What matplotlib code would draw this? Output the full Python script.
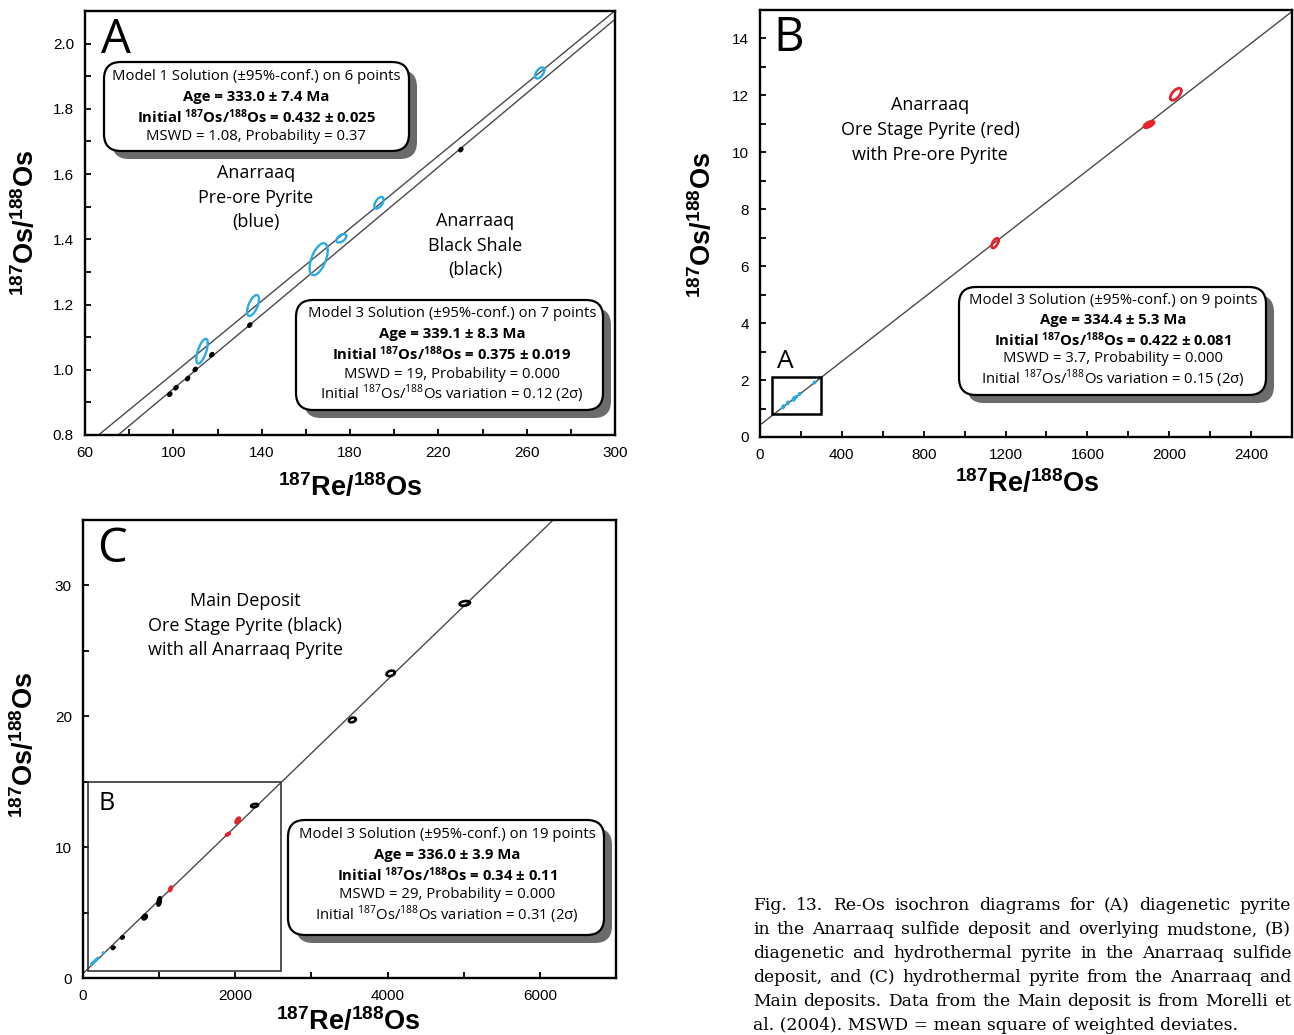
import numpy as np
import matplotlib
matplotlib.use('Agg')
import matplotlib.pyplot as plt
from matplotlib.patches import FancyBboxPatch, Rectangle
from matplotlib.ticker import MultipleLocator, FixedLocator, FormatStrFormatter

plt.rcParams['font.family'] = ['Liberation Sans', 'DejaVu Sans']
plt.rcParams['mathtext.fontset'] = 'custom'
plt.rcParams['mathtext.rm'] = 'Open Sans'
plt.rcParams['mathtext.bf'] = 'Open Sans:bold'
plt.rcParams['mathtext.sf'] = 'Liberation Sans:bold'

# ---------------- data ----------------
# Panel A: Anarraaq pre-ore pyrite (blue) error ellipses
pre_x = [113.0, 136.1, 165.8, 176.1, 193.1, 265.9]
pre_y = [1.057, 1.197, 1.339, 1.403, 1.512, 1.910]
pre_sx = [2.6, 2.7, 4.1, 2.2, 2.1, 2.1]
pre_sy = [0.038, 0.032, 0.049, 0.013, 0.018, 0.017]
pre_rho = [0.65, 0.6, 0.55, 0.5, 0.55, 0.55]
# Anarraaq black shale (black)
sh_x = [98.4, 101.2, 106.5, 109.9, 117.4, 134.6, 230.2]
sh_y = [0.925, 0.945, 0.973, 1.001, 1.046, 1.137, 1.675]
sh_sx = [1.0] * 7
sh_sy = [0.007] * 7
# Anarraaq ore-stage pyrite (red)
ore_x = [1149, 1901, 2032]
ore_y = [6.81, 10.98, 12.04]
ore_sx = [17, 22, 27]
ore_sy = [0.17, 0.10, 0.21]
ore_rho = [0.6, 0.7, 0.6]
# Main deposit ore-stage pyrite (black)
main_x = [5014, 4041, 3538, 2253, 998, 1003, 811, 806, 517, 395]
main_y = [28.63, 23.28, 19.72, 13.18, 5.75, 5.95, 4.68, 4.62, 3.10, 2.31]
main_sx = [68, 54, 45, 45, 20, 20, 26, 24, 16, 16]
main_sy = [0.18, 0.21, 0.18, 0.13, 0.22, 0.22, 0.15, 0.14, 0.09, 0.09]
main_rho = [0.3, 0.3, 0.3, 0.3, 0.4, 0.4, 0.3, 0.3, 0.3, 0.3]

# tick labels
A_xticks = [60, 100, 140, 180, 220, 260, 300]
A_yticks = [0.8, 1.0, 1.2, 1.4, 1.6, 1.8, 2.0]
B_xticks = [0, 400, 800, 1200, 1600, 2000, 2400]
B_yticks = [0, 2, 4, 6, 8, 10, 12, 14]
C_xticks = [0, 2000, 4000, 6000]
C_yticks = [0, 10, 20, 30]

# isochron models: (initial 187Os/188Os, age in Ma)
LAMBDA = 1.666e-11
modelA1 = (0.432, 333.0)
modelA3 = (0.375, 339.1)
modelB = (0.422, 334.4)
modelC = (0.34, 336.0)

BLUE = '#2AABE2'
RED = '#E3242B'
LINEC = '#4a4a4a'

W, H = 1294, 1035
fig = plt.figure(figsize=(W / 100, H / 100), dpi=100)


def fpos(px, py):
    return px / W, 1 - py / H


def add_ax(l, t, r, b):
    return fig.add_axes([l / W, 1 - b / H, (r - l) / W, (b - t) / H])


def ell(ax, cx, cy, sx, sy, rho, color, lw=1.6, fill=False, z=3):
    t = np.linspace(0, 2 * np.pi, 120)
    x = cx + sx * np.cos(t)
    y = cy + sy * (rho * np.cos(t) + np.sqrt(1 - rho ** 2) * np.sin(t))
    if fill:
        ax.fill(x, y, color=color, lw=0.8, zorder=z)
    else:
        ax.plot(x, y, color=color, lw=lw, zorder=z, solid_capstyle='round')


def iso(ax, model, lw=1.0):
    r0, age = model
    slope = np.exp(LAMBDA * age * 1e6) - 1
    ax.axline((0, r0), slope=slope, color=LINEC, lw=lw, zorder=2)


def style(ax, xt, xmin, yt, ymin):
    ax.xaxis.set_major_locator(FixedLocator(xt))
    ax.xaxis.set_minor_locator(MultipleLocator(xmin))
    ax.yaxis.set_major_locator(FixedLocator(yt))
    ax.yaxis.set_minor_locator(MultipleLocator(ymin))
    ax.tick_params(which='both', direction='in', length=4, width=1.3,
                   top=False, right=False, labelsize=11, pad=8)
    for s in ax.spines.values():
        s.set_linewidth(1.7)


def rbox(x0, y0, x1, y1, lines, ys, cx, fs):
    fx0, fy0 = fpos(x0, y1)
    w = (x1 - x0) / W
    h = (y1 - y0) / H
    r = 17 / W
    sh = FancyBboxPatch((fx0 + 8 / W, fy0 - 8 / H), w, h,
                        boxstyle=f"round,pad=0,rounding_size={r}",
                        mutation_aspect=W / H, transform=fig.transFigure,
                        fc='0.42', ec='none', zorder=20)
    bx = FancyBboxPatch((fx0, fy0), w, h,
                        boxstyle=f"round,pad=0,rounding_size={r}",
                        mutation_aspect=W / H, transform=fig.transFigure,
                        fc='white', ec='black', lw=1.6, zorder=21)
    fig.add_artist(sh)
    fig.add_artist(bx)
    for (s, bold), yy in zip(lines, ys):
        fig.text(*fpos(cx, yy), s, ha='center', va='center', fontsize=fs,
                 family='Open Sans', fontweight='bold' if bold else 'normal',
                 zorder=22)


def mtext(cx, ys, lines, fs=13):
    for s, yy in zip(lines, ys):
        fig.text(*fpos(cx, yy), s, ha='center', va='center', fontsize=fs,
                 family='Open Sans', zorder=10)


XL = r'$\mathsf{{}^{187}Re/{}^{188}Os}$'
YL = r'$\mathsf{{}^{187}Os/{}^{188}Os}$'
SUP = r'${}^{187}$Os/${}^{188}$Os'
SUPB = r'$\mathbf{{}^{187}}$Os/$\mathbf{{}^{188}}$Os'
LFS = 19.5

# ---------------- Panel A ----------------
axA = add_ax(85, 11, 615, 435)
axA.set_xlim(60, 300)
axA.set_ylim(0.8, 2.1)
style(axA, A_xticks, 20, A_yticks, 0.1)
axA.yaxis.set_major_formatter(FormatStrFormatter('%.1f'))
iso(axA, modelA1)
iso(axA, modelA3)
for i in range(len(pre_x)):
    ell(axA, pre_x[i], pre_y[i], pre_sx[i], pre_sy[i], pre_rho[i], BLUE, lw=1.7)
for i in range(len(sh_x)):
    ell(axA, sh_x[i], sh_y[i], sh_sx[i], sh_sy[i], 0.3, 'black', fill=True)
axA.set_xlabel(XL, fontsize=LFS, va='center')
axA.xaxis.set_label_coords(0.5, -0.123)
axA.set_ylabel(YL, fontsize=LFS, va='center')
axA.yaxis.set_label_coords(-0.113, 0.5)

# ---------------- Panel B ----------------
axB = add_ax(760, 10, 1292, 437)
axB.set_xlim(0, 2600)
axB.set_ylim(0, 15)
style(axB, B_xticks, 200, B_yticks, 1)
iso(axB, modelB)
for i in range(len(pre_x)):
    ell(axB, pre_x[i], pre_y[i], pre_sx[i], pre_sy[i], pre_rho[i], BLUE, lw=2.2)
for i in range(len(ore_x)):
    ell(axB, ore_x[i], ore_y[i], ore_sx[i], ore_sy[i], ore_rho[i], RED,
        lw=2.0 if i != 1 else 2.6)
axB.add_patch(Rectangle((60, 0.8), 240, 1.3, fill=False, ec='black', lw=1.8, zorder=4))
axB.set_xlabel(XL, fontsize=LFS, va='center')
axB.xaxis.set_label_coords(0.502, -0.108)
axB.set_ylabel(YL, fontsize=LFS, va='center')
axB.yaxis.set_label_coords(-0.107, 0.496)

# ---------------- Panel C ----------------
axC = add_ax(83, 520, 616, 978)
axC.set_xlim(0, 7000)
axC.set_ylim(0, 35)
style(axC, C_xticks, 1000, C_yticks, 5)
iso(axC, modelC)
for i in range(len(pre_x)):
    ell(axC, pre_x[i], pre_y[i], pre_sx[i], pre_sy[i], pre_rho[i], BLUE, lw=2.0)
for i in range(len(ore_x)):
    ell(axC, ore_x[i], ore_y[i], ore_sx[i], ore_sy[i], ore_rho[i], RED, lw=2.0)
for i in range(len(main_x)):
    ell(axC, main_x[i], main_y[i], main_sx[i], main_sy[i], main_rho[i], 'black', lw=1.9)
axC.add_patch(Rectangle((65, 0.5), 2535, 14.5, fill=False, ec='#333333', lw=1.2, zorder=4))
axC.set_xlabel(XL, fontsize=LFS, va='center')
axC.xaxis.set_label_coords(0.497, -0.096)
axC.set_ylabel(YL, fontsize=LFS, va='center')
axC.yaxis.set_label_coords(-0.109, 0.509)

# ---------------- panel letters and labels ----------------
for s, (px, py), fs in [('A', (116, 40), 34), ('B', (789, 38), 34), ('C', (112, 549), 34),
                        ('A', (785, 362), 19), ('B', (107, 803), 18)]:
    fig.text(*fpos(px, py), s, ha='center', va='center', fontsize=fs,
             family='Open Sans', zorder=10)

mtext(256, [173, 198, 222], ['Anarraaq', 'Pre-ore Pyrite', '(blue)'])
mtext(475, [221, 246, 270], ['Anarraaq', 'Black Shale', '(black)'])
mtext(930, [105, 130, 155], ['Anarraaq', 'Ore Stage Pyrite (red)', 'with Pre-ore Pyrite'])
mtext(245, [601, 626, 650], ['Main Deposit', 'Ore Stage Pyrite (black)', 'with all Anarraaq Pyrite'])

FS_BOX = 10.7
rbox(104, 62, 409, 151,
     [('Model 1 Solution (±95%-conf.) on 6 points', False),
      ('Age = 333.0 ± 7.4 Ma', True),
      ('Initial ' + SUPB + ' = 0.432 ± 0.025', True),
      ('MSWD = 1.08, Probability = 0.37', False)],
     [77, 97, 117, 137], 256, FS_BOX)
rbox(296, 300, 603, 410,
     [('Model 3 Solution (±95%-conf.) on 7 points', False),
      ('Age = 339.1 ± 8.3 Ma', True),
      ('Initial ' + SUPB + ' = 0.375 ± 0.019', True),
      ('MSWD = 19, Probability = 0.000', False),
      ('Initial ' + SUP + ' variation = 0.12 (2σ)', False)],
     [314, 334, 354, 374, 394], 452, FS_BOX)
rbox(959, 287, 1266, 395,
     [('Model 3 Solution (±95%-conf.) on 9 points', False),
      ('Age = 334.4 ± 5.3 Ma', True),
      ('Initial ' + SUPB + ' = 0.422 ± 0.081', True),
      ('MSWD = 3.7, Probability = 0.000', False),
      ('Initial ' + SUP + ' variation = 0.15 (2σ)', False)],
     [300, 320, 340, 359, 379], 1113, FS_BOX)
rbox(288, 820, 604, 935,
     [('Model 3 Solution (±95%-conf.) on 19 points', False),
      ('Age = 336.0 ± 3.9 Ma', True),
      ('Initial ' + SUPB + ' = 0.34 ± 0.11', True),
      ('MSWD = 29, Probability = 0.000', False),
      ('Initial ' + SUP + ' variation = 0.31 (2σ)', False)],
     [835, 855, 875, 895, 915], 447, FS_BOX)

# ---------------- caption (justified) ----------------
caption = [
    'Fig. 13. Re-Os isochron diagrams for (A) diagenetic pyrite',
    'in the Anarraaq sulfide deposit and overlying mudstone, (B)',
    'diagenetic and hydrothermal pyrite in the Anarraaq sulfide',
    'deposit, and (C) hydrothermal pyrite from the Anarraaq and',
    'Main deposits. Data from the Main deposit is from Morelli et',
    'al. (2004). MSWD = mean square of weighted deviates.',
]
cap_y = [906, 930, 954, 978, 1002, 1025]
LEFT, RIGHT = 753, 1291
renderer = fig.canvas.get_renderer()
for i, (line, yy) in enumerate(zip(caption, cap_y)):
    kw = dict(ha='left', va='center', fontsize=12.3, family='DejaVu Serif')
    if i == len(caption) - 1:
        fig.text(*fpos(LEFT, yy), line, **kw)
        continue
    words = line.split(' ')
    ts = [fig.text(0, 1 - yy / H, w_, **kw) for w_ in words]
    widths = [t.get_window_extent(renderer).width for t in ts]
    gap = (RIGHT - LEFT - sum(widths)) / (len(words) - 1)
    x = LEFT
    for t, w_ in zip(ts, widths):
        t.set_x(x / W)
        x += w_ + gap

fig.savefig('out.png', dpi=100)
